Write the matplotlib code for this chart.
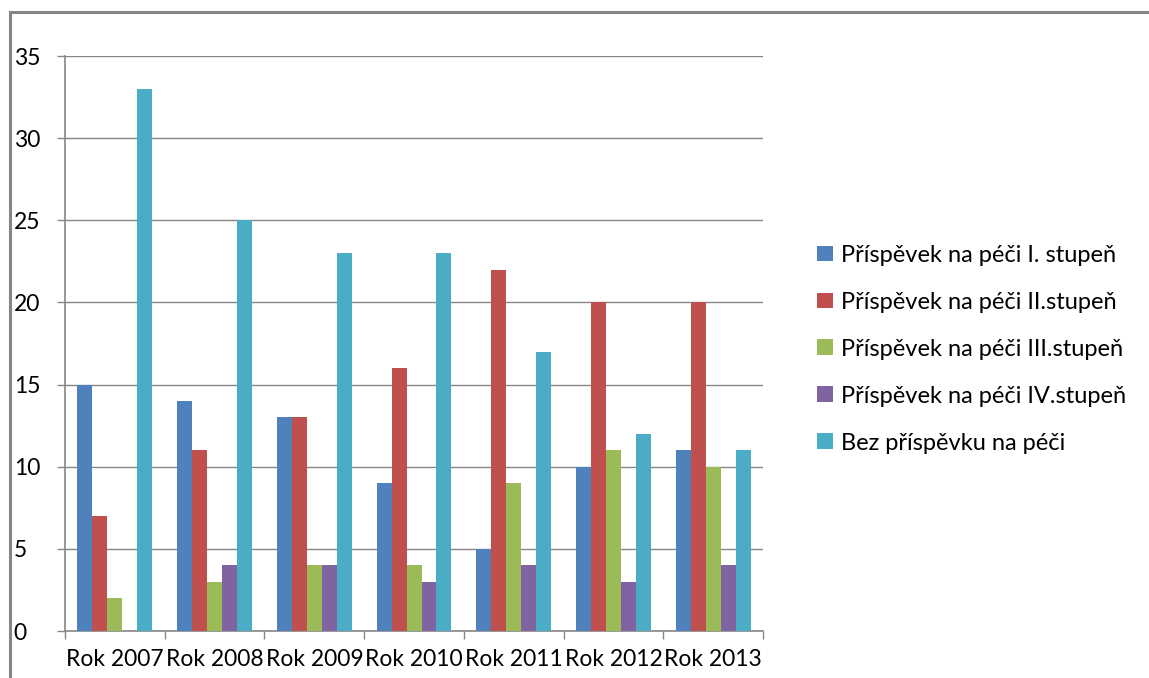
import numpy as np
import matplotlib.pyplot as plt
from matplotlib.lines import Line2D

plt.rcParams['font.family'] = ['Lato', 'DejaVu Sans']

years = ["Rok 2007", "Rok 2008", "Rok 2009", "Rok 2010", "Rok 2011", "Rok 2012", "Rok 2013"]
series_names = [
    "Příspěvek na péči I. stupeň",
    "Příspěvek na péči II.stupeň",
    "Příspěvek na péči III.stupeň",
    "Příspěvek na péči IV.stupeň",
    "Bez příspěvku na péči",
]
stupen_1 = [15, 14, 13, 9, 5, 10, 11]
stupen_2 = [7, 11, 13, 16, 22, 20, 20]
stupen_3 = [2, 3, 4, 4, 9, 11, 10]
stupen_4 = [0, 4, 4, 3, 4, 3, 4]
bez_prispevku = [33, 25, 23, 23, 17, 12, 11]

colors = ["#4F81BD", "#C0504D", "#9BBB59", "#8064A2", "#4BACC6"]
grid_gray = "#868686"

fig = plt.figure(figsize=(11.49, 6.78), dpi=100)
ax = fig.add_axes([0.0566, 0.0693, 0.6075, 0.848])

x = np.arange(len(years))
width = 0.15
all_series = [stupen_1, stupen_2, stupen_3, stupen_4, bez_prispevku]
for i, (vals, name, col) in enumerate(zip(all_series, series_names, colors)):
    ax.bar(x + (i - 2) * width, vals, width, color=col, label=name, zorder=3)

ax.set_xlim(-0.5, len(years) - 0.5)
ax.set_ylim(0, 35)
ax.set_yticks(range(0, 36, 5))
ax.yaxis.grid(True, color=grid_gray, linewidth=1, zorder=0)

ax.set_xticks(x)
ax.set_xticklabels(years, fontsize=16.5)
ax.set_xticks(np.arange(-0.5, len(years)), minor=True)
ax.tick_params(axis="x", which="major", length=0, pad=13)
ax.tick_params(axis="x", which="minor", length=6, color=grid_gray, width=1)
ax.tick_params(axis="y", length=6, color=grid_gray, width=1, labelsize=16.5, pad=31)
for lab in ax.get_yticklabels():
    lab.set_horizontalalignment("left")

for side in ["top", "right"]:
    ax.spines[side].set_visible(False)
for side in ["left", "bottom"]:
    ax.spines[side].set_color(grid_gray)
    ax.spines[side].set_linewidth(1.2)

# outer frame (left and top edges only)
fig.add_artist(Line2D([0.0087, 0.0087], [0, 0.982], color=grid_gray, linewidth=2.2,
                      transform=fig.transFigure))
fig.add_artist(Line2D([0.0087, 1.0], [0.982, 0.982], color=grid_gray, linewidth=2.2,
                      transform=fig.transFigure))

handles, labels = ax.get_legend_handles_labels()
fig.legend(handles, labels, loc="center left", bbox_to_anchor=(0.703, 0.485),
           frameon=False, fontsize=17, handlelength=0.65, handleheight=0.65,
           handletextpad=0.35, labelspacing=1.1, borderaxespad=0)

fig.savefig("out.png", dpi=100)
